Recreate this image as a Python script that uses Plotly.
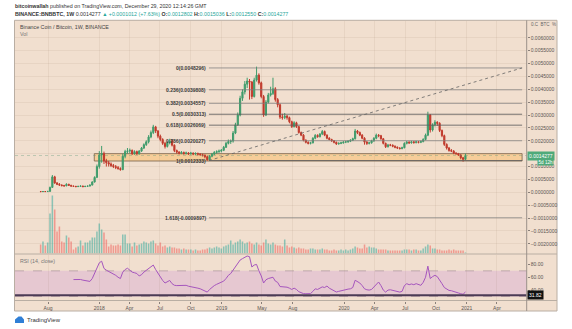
import pandas as pd
import plotly.graph_objects as go

# ---------------- data (weekly BNB/BTC) ----------------
start_week = "2017-07-10"

open_ = [0.00003, 0.000025, 0.00003, 0.000028, 0.000035, 0.00019, 0.00060, 0.00036, 0.00031, 0.00028,
         0.00026, 0.00025, 0.00031, 0.00027, 0.00024, 0.00023, 0.00022, 0.00023, 0.00024, 0.00022,
         0.00023, 0.00024, 0.00028, 0.00040, 0.00058, 0.00100, 0.00145, 0.00150, 0.00122, 0.00115,
         0.00110, 0.00104, 0.00100, 0.00096, 0.00092, 0.00088, 0.00140, 0.00158, 0.00160, 0.00163,
         0.00150, 0.00158, 0.00150, 0.00160, 0.00172, 0.00185, 0.00196, 0.00215, 0.00232, 0.00254,
         0.00238, 0.00218, 0.00205, 0.00190, 0.00178, 0.00192, 0.00200, 0.00183, 0.00162, 0.00156,
         0.00152, 0.00155, 0.00151, 0.00153, 0.00150, 0.00152, 0.00149, 0.00151, 0.00148, 0.00146,
         0.00144, 0.00138, 0.00126, 0.00140, 0.00148, 0.00155, 0.00158, 0.00160, 0.00163, 0.00175,
         0.00190, 0.00197, 0.00199, 0.00230, 0.00262, 0.00300, 0.00365, 0.00390, 0.00420, 0.00432,
         0.00428, 0.00372, 0.00436, 0.00455, 0.00425, 0.00372, 0.00300, 0.00350, 0.00378, 0.00384,
         0.00402, 0.00360, 0.00340, 0.00292, 0.00290, 0.00296, 0.00290, 0.00274, 0.00255, 0.00270,
         0.00255, 0.00232, 0.00222, 0.00202, 0.00194, 0.00190, 0.00192, 0.00210, 0.00221, 0.00216,
         0.00226, 0.00236, 0.00222, 0.00210, 0.00205, 0.00200, 0.00194, 0.00188, 0.00190, 0.00192,
         0.00195, 0.00196, 0.00198, 0.00202, 0.00208, 0.00238, 0.00232, 0.00222, 0.00210, 0.00195,
         0.00190, 0.00192, 0.00200, 0.00210, 0.00222, 0.00220, 0.00208, 0.00190, 0.00177, 0.00184,
         0.00183, 0.00179, 0.00175, 0.00172, 0.00170, 0.00173, 0.00190, 0.00195, 0.00192, 0.00196,
         0.00193, 0.00196, 0.00194, 0.00197, 0.00205, 0.00222, 0.00300, 0.00242, 0.00262, 0.00272,
         0.00268, 0.00240, 0.00220, 0.00186, 0.00172, 0.00162, 0.00160, 0.00152, 0.00150, 0.00145,
         0.00134, 0.0012802]

high = [0.00004, 0.000035, 0.000035, 0.00004, 0.00022, 0.00067, 0.00064, 0.00040, 0.00036, 0.00031,
        0.00029, 0.00035, 0.00033, 0.00029, 0.00026, 0.00025, 0.00025, 0.00027, 0.00026, 0.00025,
        0.00026, 0.00030, 0.00043, 0.00062, 0.00108, 0.00160, 0.00180, 0.00158, 0.00130, 0.00122,
        0.00116, 0.00110, 0.00106, 0.00102, 0.00097, 0.00150, 0.00165, 0.00172, 0.00170, 0.00166,
        0.00163, 0.00162, 0.00164, 0.00176, 0.00190, 0.00202, 0.00222, 0.00240, 0.00262, 0.00258,
        0.00242, 0.00224, 0.00210, 0.00196, 0.00198, 0.00208, 0.00204, 0.00186, 0.00166, 0.00160,
        0.00160, 0.00158, 0.00158, 0.00156, 0.00157, 0.00155, 0.00155, 0.00154, 0.00152, 0.00150,
        0.00147, 0.00142, 0.00145, 0.00153, 0.00160, 0.00163, 0.00166, 0.00168, 0.00180, 0.00196,
        0.00205, 0.00205, 0.00238, 0.00270, 0.00310, 0.00375, 0.00400, 0.00432, 0.00445, 0.00440,
        0.00432, 0.00445, 0.00488, 0.00462, 0.00430, 0.00378, 0.00358, 0.00386, 0.00410, 0.00445,
        0.00408, 0.00366, 0.00345, 0.00305, 0.00308, 0.00300, 0.00294, 0.00278, 0.00276, 0.00274,
        0.00258, 0.00236, 0.00226, 0.00206, 0.00198, 0.00196, 0.00214, 0.00226, 0.00225, 0.00230,
        0.00242, 0.00240, 0.00225, 0.00214, 0.00208, 0.00203, 0.00197, 0.00194, 0.00196, 0.00198,
        0.00200, 0.00202, 0.00206, 0.00212, 0.00246, 0.00242, 0.00236, 0.00226, 0.00214, 0.00199,
        0.00196, 0.00204, 0.00214, 0.00228, 0.00226, 0.00223, 0.00211, 0.00193, 0.00188, 0.00188,
        0.00186, 0.00182, 0.00178, 0.00175, 0.00177, 0.00194, 0.00199, 0.00198, 0.00200, 0.00199,
        0.00200, 0.00199, 0.00201, 0.00210, 0.00228, 0.00313, 0.00304, 0.00268, 0.00280, 0.00276,
        0.00272, 0.00244, 0.00224, 0.00190, 0.00176, 0.00168, 0.00164, 0.00156, 0.00153, 0.00148,
        0.00137, 0.0015036]

low = [0.00002, 0.00002, 0.00002, 0.000025, 0.00003, 0.00018, 0.00033, 0.00028, 0.00025, 0.00023,
       0.00022, 0.00024, 0.00025, 0.00022, 0.00021, 0.00020, 0.00021, 0.00022, 0.00020, 0.00021,
       0.00022, 0.00023, 0.00027, 0.00038, 0.00055, 0.00092, 0.00115, 0.00110, 0.00100, 0.00100,
       0.00098, 0.00094, 0.00090, 0.00088, 0.00084, 0.00086, 0.00132, 0.00150, 0.00152, 0.00145,
       0.00146, 0.00145, 0.00146, 0.00157, 0.00168, 0.00180, 0.00190, 0.00210, 0.00226, 0.00230,
       0.00210, 0.00198, 0.00184, 0.00170, 0.00174, 0.00186, 0.00178, 0.00156, 0.00150, 0.00147,
       0.00148, 0.00146, 0.00147, 0.00145, 0.00146, 0.00144, 0.00145, 0.00143, 0.00142, 0.00139,
       0.00132, 0.00123, 0.00124, 0.00136, 0.00144, 0.00150, 0.00153, 0.00155, 0.00160, 0.00172,
       0.00186, 0.00188, 0.00193, 0.00226, 0.00258, 0.00295, 0.00355, 0.00380, 0.00405, 0.00360,
       0.00362, 0.00368, 0.00430, 0.00418, 0.00365, 0.00293, 0.00296, 0.00345, 0.00372, 0.00378,
       0.00352, 0.00330, 0.00285, 0.00282, 0.00284, 0.00282, 0.00268, 0.00250, 0.00252, 0.00250,
       0.00228, 0.00218, 0.00198, 0.00190, 0.00186, 0.00186, 0.00190, 0.00206, 0.00212, 0.00213,
       0.00222, 0.00218, 0.00206, 0.00202, 0.00196, 0.00190, 0.00184, 0.00185, 0.00187, 0.00189,
       0.00191, 0.00192, 0.00195, 0.00199, 0.00205, 0.00226, 0.00218, 0.00206, 0.00185, 0.00184,
       0.00186, 0.00189, 0.00196, 0.00206, 0.00214, 0.00204, 0.00186, 0.00172, 0.00174, 0.00179,
       0.00175, 0.00171, 0.00168, 0.00166, 0.00167, 0.00171, 0.00186, 0.00188, 0.00189, 0.00189,
       0.00190, 0.00190, 0.00191, 0.00194, 0.00202, 0.00218, 0.00232, 0.00236, 0.00256, 0.00258,
       0.00234, 0.00214, 0.00180, 0.00166, 0.00158, 0.00156, 0.00148, 0.00146, 0.00141, 0.00128,
       0.00119, 0.001255]

close = [0.000025, 0.00003, 0.000028, 0.000035, 0.00019, 0.00060, 0.00036, 0.00031, 0.00028, 0.00026,
         0.00025, 0.00031, 0.00027, 0.00024, 0.00023, 0.00022, 0.00023, 0.00024, 0.00022, 0.00023,
         0.00024, 0.00028, 0.00040, 0.00058, 0.00100, 0.00145, 0.00150, 0.00122, 0.00115, 0.00110,
         0.00104, 0.00100, 0.00096, 0.00092, 0.00088, 0.00140, 0.00158, 0.00160, 0.00163, 0.00150,
         0.00158, 0.00150, 0.00160, 0.00172, 0.00185, 0.00196, 0.00215, 0.00232, 0.00254, 0.00238,
         0.00218, 0.00205, 0.00190, 0.00178, 0.00192, 0.00200, 0.00183, 0.00162, 0.00156, 0.00152,
         0.00155, 0.00151, 0.00153, 0.00150, 0.00152, 0.00149, 0.00151, 0.00148, 0.00146, 0.00144,
         0.00138, 0.00126, 0.00140, 0.00148, 0.00155, 0.00158, 0.00160, 0.00163, 0.00175, 0.00190,
         0.00197, 0.00199, 0.00230, 0.00262, 0.00300, 0.00365, 0.00390, 0.00420, 0.00432, 0.00428,
         0.00372, 0.00436, 0.00455, 0.00425, 0.00372, 0.00300, 0.00350, 0.00378, 0.00384, 0.00402,
         0.00360, 0.00340, 0.00292, 0.00290, 0.00296, 0.00290, 0.00274, 0.00255, 0.00270, 0.00255,
         0.00232, 0.00222, 0.00202, 0.00194, 0.00190, 0.00192, 0.00210, 0.00221, 0.00216, 0.00226,
         0.00236, 0.00222, 0.00210, 0.00205, 0.00200, 0.00194, 0.00188, 0.00190, 0.00192, 0.00195,
         0.00196, 0.00198, 0.00202, 0.00208, 0.00238, 0.00232, 0.00222, 0.00210, 0.00195, 0.00190,
         0.00192, 0.00200, 0.00210, 0.00222, 0.00220, 0.00208, 0.00190, 0.00177, 0.00184, 0.00183,
         0.00179, 0.00175, 0.00172, 0.00170, 0.00173, 0.00190, 0.00195, 0.00192, 0.00196, 0.00193,
         0.00196, 0.00194, 0.00197, 0.00205, 0.00222, 0.00300, 0.00242, 0.00262, 0.00272, 0.00268,
         0.00240, 0.00220, 0.00186, 0.00172, 0.00162, 0.00160, 0.00152, 0.00150, 0.00145, 0.00134,
         0.00128, 0.0014277]

# volume, millions of BNB (approximate)
volume = [0.9, 1.2, 0.8, 1.1, 4.0, 5.8, 4.4, 2.2, 2.7, 1.2, 1.1, 1.8, 1.6, 1.2, 0.4, 0.6, 0.7, 1.3, 0.8, 1.1,
          1.1, 1.3, 1.6, 1.6, 2.2, 3.0, 2.4, 2.1, 1.4, 0.7, 0.9, 0.8, 0.8, 0.9, 0.8, 1.9, 1.9, 1.0, 1.0, 0.7,
          1.1, 0.8, 0.9, 1.0, 1.2, 1.1, 1.0, 1.2, 1.3, 1.0, 0.8, 1.1, 0.7, 0.8, 0.6, 0.7, 0.6, 0.6, 0.5, 0.5,
          0.4, 0.5, 0.4, 0.4, 0.4, 0.3, 0.4, 0.3, 0.3, 0.4, 0.4, 0.5, 0.6, 0.5, 0.6, 0.7, 0.6, 0.5, 0.7, 0.8,
          0.9, 1.3, 0.9, 1.1, 1.2, 1.4, 1.2, 1.0, 1.1, 1.2, 1.0, 0.9, 1.1, 0.9, 0.8, 1.1, 1.4, 1.0, 0.9, 1.1,
          0.9, 0.8, 0.8, 0.7, 1.4, 0.8, 0.6, 0.7, 0.6, 0.5, 0.6, 0.5, 0.5, 0.4, 0.4, 0.5, 0.5, 0.4, 0.4, 0.4,
          0.5, 0.4, 0.4, 0.3, 0.3, 0.4, 0.3, 0.3, 0.4, 0.3, 0.4, 0.3, 0.4, 0.5, 0.7, 0.6, 0.5, 0.5, 0.9, 0.6,
          0.7, 0.6, 0.6, 0.5, 0.4, 0.4, 0.4, 0.4, 0.3, 0.3, 0.3, 0.3, 0.3, 0.3, 0.3, 0.4, 0.4, 0.4, 0.3, 0.4,
          0.4, 0.3, 0.3, 0.5, 0.7, 0.9, 0.8, 0.5, 0.5, 0.4, 0.4, 0.3, 0.3, 0.3, 0.4, 0.3, 0.4, 0.3, 0.3, 0.3,
          0.3, 0.1]

# RSI(14, close), starting with the 15th weekly bar
rsi = [56.4, 56.5, 56.5, 56.5, 55.5, 55.0, 54.0, 53.5, 58.0, 65.8, 75.0, 82.5, 85.0, 73.7, 71.0, 69.0,
       68.0, 66.0, 63.0, 60.0, 58.0, 68.0, 72.0, 74.0, 71.0, 68.0, 67.0, 65.8, 62.0, 64.0, 68.0, 71.0,
       74.0, 76.0, 79.0, 72.0, 65.8, 60.0, 55.0, 51.0, 53.0, 55.0, 50.0, 47.5, 47.0, 47.4, 47.4, 47.0,
       47.4, 46.0, 45.5, 44.7, 44.0, 43.0, 42.0, 40.5, 39.0, 36.9, 41.0, 44.7, 47.0, 49.0, 51.0, 52.0,
       54.0, 58.0, 63.0, 65.8, 71.0, 76.0, 80.0, 86.8, 89.0, 91.5, 93.1, 92.0, 76.0, 79.0, 80.0, 70.0,
       62.0, 51.0, 56.0, 58.0, 59.0, 60.0, 54.0, 52.0, 45.5, 45.0, 45.5, 44.5, 43.0, 41.0, 43.0, 41.0,
       37.5, 36.0, 34.5, 34.3, 34.3, 34.5, 38.0, 42.0, 41.0, 43.0, 45.0, 44.0, 46.3, 43.0, 41.0, 40.0,
       37.0, 38.0, 39.0, 40.5, 41.0, 41.5, 42.0, 44.0, 55.3, 53.0, 51.0, 47.0, 42.0, 40.5, 40.0, 41.0,
       45.0, 50.0, 52.6, 47.0, 40.0, 36.9, 40.0, 40.5, 39.5, 38.5, 37.5, 36.9, 38.0, 47.0, 50.0, 48.4,
       49.5, 48.4, 50.0, 48.5, 47.4, 52.0, 60.0, 77.3, 58.0, 61.0, 63.0, 61.0, 56.0, 50.0, 44.0, 41.0,
       39.5, 39.0, 37.5, 36.9, 35.5, 34.3, 33.5, 37.0]

fib_ratios = ["0", "0.236", "0.382", "0.5", "0.618", "0.786", "1", "1.618"]
fib_levels = [0.0048296, 0.0039808, 0.0034557, 0.0030313, 0.0026069, 0.0020027, 0.0012333, -0.0009897]
fib_start, fib_end = "2018-11-24", "2021-06-15"
zone_start, zone_low, zone_high = "2017-12-17", 0.001215, 0.0015
last_price = 0.0014277
rsi_marker = 31.82

# 0.0015000 sits behind the last-price badge in the reference, so it has no visible label
price_ticks = [-0.002, -0.0015, -0.001, -0.0005, 0.0, 0.0005, 0.001, 0.0015, 0.002, 0.0025,
               0.003, 0.0035, 0.004, 0.0045, 0.005, 0.0055, 0.006]
price_labels = ["\u22120.0020000", "\u22120.0015000", "\u22120.0010000", "\u22120.0005000", "0.0000000",
                "0.0005000", "0.0010000", "", "0.0020000", "0.0025000", "0.0030000",
                "0.0035000", "0.0040000", "0.0045000", "0.0050000", "0.0055000", "0.0060000"]
rsi_ticks = [40, 60, 80]
rsi_labels = ["40.00", "60.00", "80.00"]
time_ticks = ["2017-08-01", "2018-01-01", "2018-04-01", "2018-07-01", "2018-10-01", "2019-01-01",
              "2019-05-01", "2019-08-01", "2020-01-01", "2020-04-01", "2020-07-01", "2020-10-01",
              "2021-01-01", "2021-04-01"]
time_labels = ["Aug", "2018", "Apr", "Jul", "Oct", "2019", "May", "Aug", "2020", "Apr", "Jul", "Oct",
               "2021", "Apr"]

# ---------------- styling ----------------
W, H = 572, 329
BG = "#f1dfcf"
UP, DOWN = "#3f9c6c", "#c13a2c"
FONT = "Liberation Sans"
BORDER = "#b9aea3"


def px(x):
    return x / W


def py(y):
    return 1 - y / H


dates = pd.date_range(start_week, periods=len(close), freq="7D")
rsi_dates = dates[len(close) - len(rsi):]
vol_colors = ["rgba(38,166,154,0.5)" if c >= o else "rgba(239,83,80,0.5)" for o, c in zip(open_, close)]

fig = go.Figure()
fig.add_trace(go.Bar(x=dates, y=volume, marker=dict(color=vol_colors, line=dict(width=0)),
                     xaxis="x", yaxis="y", hoverinfo="skip"))
fig.add_trace(go.Candlestick(x=dates, open=open_, high=high, low=low, close=close,
                             xaxis="x", yaxis="y3", whiskerwidth=0,
                             increasing=dict(line=dict(color=UP, width=1), fillcolor=UP),
                             decreasing=dict(line=dict(color=DOWN, width=1), fillcolor=DOWN)))
fig.add_trace(go.Scatter(x=rsi_dates, y=rsi, mode="lines", line=dict(color="#a555bd", width=1),
                         xaxis="x2", yaxis="y2", hoverinfo="skip"))

x_dom = [px(15), px(526.7)]
x_range = ["2017-04-24 14:00", "2021-06-28 17:00"]
GRID = "rgba(150,120,95,0.10)"

fig.update_layout(
    width=W, height=H, margin=dict(l=0, r=0, t=0, b=0),
    paper_bgcolor="white", plot_bgcolor="rgba(0,0,0,0)",
    showlegend=False, bargap=0.35, font=dict(family=FONT, color="#555"),
    xaxis=dict(domain=x_dom, range=x_range, anchor="y", showticklabels=False,
               rangeslider=dict(visible=False), tickvals=time_ticks, showgrid=True,
               gridcolor=GRID, gridwidth=1, zeroline=False, ticks=""),
    yaxis=dict(domain=[py(253.5), py(20.5)], range=[0, 23.3], visible=False, fixedrange=True),
    yaxis3=dict(overlaying="y", anchor="x", side="right", range=[-0.002377, 0.006672],
                tickvals=price_ticks, ticktext=price_labels, showgrid=True, gridcolor=GRID,
                zeroline=False, ticks="outside", ticklen=2, tickcolor="#8a8079",
                tickfont=dict(size=5, color="#5a5450", family=FONT), showline=False),
    xaxis2=dict(domain=x_dom, range=x_range, anchor="y2", matches="x",
                tickvals=time_ticks, ticktext=time_labels, showgrid=True, gridcolor=GRID,
                ticks="outside", ticklen=2, tickcolor="#8a8079", zeroline=False,
                tickfont=dict(size=5, color="#5a5450", family=FONT),
                rangeslider=dict(visible=False)),
    yaxis2=dict(domain=[py(300.5), py(254.5)], range=[23.78, 95.43], anchor="x2", side="right",
                tickvals=rsi_ticks, ticktext=rsi_labels, showgrid=False, zeroline=False,
                ticks="outside", ticklen=2, tickcolor="#8a8079",
                tickfont=dict(size=5, color="#5a5450", family=FONT)),
)

shapes = []
# beige chart panel
shapes.append(dict(type="rect", xref="paper", yref="paper", x0=px(14.5), x1=px(557), y0=py(311),
                   y1=py(20.3), fillcolor=BG, line=dict(color=BORDER, width=1), layer="below"))
# RSI 30-70 band
shapes.append(dict(type="rect", xref="paper", yref="y2", x0=x_dom[0], x1=x_dom[1], y0=30, y1=70,
                   fillcolor="rgba(205,150,215,0.30)", line=dict(width=0), layer="below"))
for lvl in (30, 70):
    shapes.append(dict(type="line", xref="paper", yref="y2", x0=x_dom[0], x1=x_dom[1], y0=lvl, y1=lvl,
                       line=dict(color="rgba(140,120,130,0.45)", width=1, dash="dash"), layer="below"))
# support zone
shapes.append(dict(type="rect", xref="x", yref="y3", x0=zone_start, x1=fib_end, y0=zone_low, y1=zone_high,
                   fillcolor="rgba(250,190,110,0.55)", line=dict(color="rgba(120,95,70,0.8)", width=1),
                   layer="below"))
# fib lines
for lvl, rt in zip(fib_levels, fib_ratios):
    col = "rgba(95,95,95,0.85)" if rt in ("0.5", "0.618", "1") else "rgba(125,125,125,0.75)"
    shapes.append(dict(type="line", xref="x", yref="y3", x0=fib_start, x1=fib_end, y0=lvl, y1=lvl,
                       line=dict(color=col, width=1)))
# diagonal of fib tool
shapes.append(dict(type="line", xref="x", yref="y3", x0=fib_start, x1=fib_end, y0=fib_levels[6],
                   y1=fib_levels[0], line=dict(color="rgba(100,100,100,0.8)", width=1, dash="dot")))
# last price dotted line
shapes.append(dict(type="line", xref="paper", yref="y3", x0=x_dom[0], x1=x_dom[1], y0=last_price,
                   y1=last_price, line=dict(color="rgba(90,150,120,0.35)", width=1, dash="dot")))
# RSI horizontal line
shapes.append(dict(type="line", xref="paper", yref="y2", x0=x_dom[0], x1=x_dom[1], y0=rsi_marker,
                   y1=rsi_marker, line=dict(color="#4b3b55", width=2)))
# pane separators and price-axis line
for yy in (254, 300.5):
    shapes.append(dict(type="line", xref="paper", yref="paper", x0=px(14.5), x1=px(557), y0=py(yy), y1=py(yy),
                       line=dict(color=BORDER, width=1)))
shapes.append(dict(type="line", xref="paper", yref="paper", x0=px(526.7), x1=px(526.7), y0=py(311),
                   y1=py(20.3), line=dict(color="#9a9089", width=1)))
# TradingView logo cloud
shapes.append(dict(type="path", xref="paper", yref="paper",
                   path=f"M {px(15)} {py(323)} L {px(24)} {py(323)} L {px(24)} {py(319.5)} "
                        f"L {px(21.5)} {py(316.5)} L {px(18.5)} {py(316.5)} L {px(15)} {py(319.5)} Z",
                   fillcolor="#2f7fd6", line=dict(width=0)))
fig.update_layout(shapes=shapes)

ann = []
# header
ann.append(dict(xref="paper", yref="paper", x=px(13), y=py(6.5), xanchor="left", yanchor="middle",
                showarrow=False, font=dict(size=5.3, color="#333", family=FONT),
                text="<b>bitcoinwallah</b> published on TradingView.com, December 29, 2020 12:14:26 GMT"))
G = "#26a69a"
ann.append(dict(xref="paper", yref="paper", x=px(13), y=py(14), xanchor="left", yanchor="middle",
                showarrow=False, font=dict(size=5.3, color="#333", family=FONT),
                text=(f"<b>BINANCE:BNBBTC, 1W</b> 0.0014277 <span style='color:{G}'>\u25b2 +0.0001012 (+7.63%)</span> "
                      f"<b>O:</b><span style='color:{G}'>0.0012802</span> <b>H:</b><span style='color:{G}'>0.0015036</span> "
                      f"<b>L:</b><span style='color:{G}'>0.0012550</span> <b>C:</b><span style='color:{G}'>0.0014277</span>")))
ann.append(dict(xref="paper", yref="paper", x=px(18), y=py(26.5), xanchor="left", yanchor="middle",
                showarrow=False, font=dict(size=5.3, color="#444", family=FONT),
                text="Binance Coin / Bitcoin, 1W, BINANCE"))
ann.append(dict(xref="paper", yref="paper", x=px(18), y=py(34), xanchor="left", yanchor="middle",
                showarrow=False, font=dict(size=5.3, color="#777", family=FONT), text="Vol"))
ann.append(dict(xref="paper", yref="paper", x=px(18), y=py(261), xanchor="left", yanchor="middle",
                showarrow=False, font=dict(size=5.3, color="#777", family=FONT), text="RSI (14, close)"))
# fib labels
for lvl, rt in zip(fib_levels, fib_ratios):
    ann.append(dict(xref="x", yref="y3", x=fib_start, y=lvl, xanchor="right", yanchor="middle", xshift=-1,
                    showarrow=False, font=dict(size=5, color="#3a3a3a", family=FONT),
                    text=f"<b>{rt}({lvl:.7f})</b>"))
# price axis badges
ann.append(dict(xref="paper", yref="y3", x=px(527), y=last_price, xanchor="left", yanchor="middle",
                showarrow=False, bgcolor="#4faa7a", borderpad=1, font=dict(size=5, color="white", family=FONT),
                text="0.0014277"))
ann.append(dict(xref="paper", yref="y3", x=px(553.5), y=last_price, xanchor="right", yanchor="middle",
                yshift=-6.3, showarrow=False, bgcolor="#4faa7a", borderpad=0.5,
                font=dict(size=4.6, color="white", family=FONT), text="5d 12h"))
ann.append(dict(xref="paper", yref="y2", x=px(527), y=rsi_marker, xanchor="left", yanchor="middle",
                showarrow=False, bgcolor="#111", borderpad=1, font=dict(size=5, color="white", family=FONT),
                text="31.82"))
ann.append(dict(xref="paper", yref="paper", x=px(529), y=py(25), xanchor="left", yanchor="middle",
                showarrow=False, font=dict(size=4.5, color="#666", family=FONT), text="0.C  BTC  %"))
ann.append(dict(xref="paper", yref="paper", x=px(25), y=py(320), xanchor="left", yanchor="middle",
                showarrow=False, font=dict(size=6, color="#333", family=FONT), text="TradingView"))
fig.update_layout(annotations=ann)

fig.write_html("out.html")
